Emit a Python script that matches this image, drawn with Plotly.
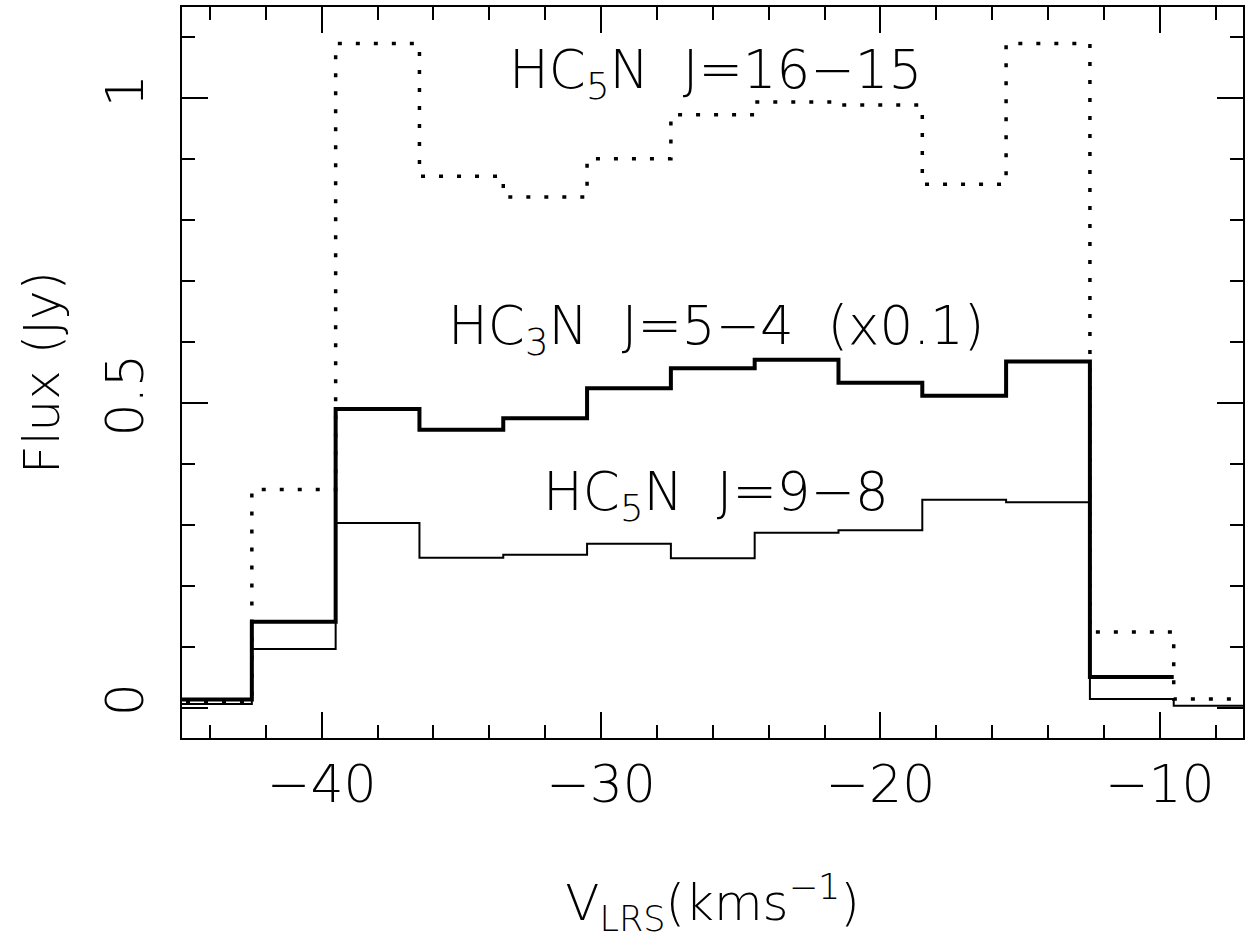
import plotly.graph_objects as go

# Channel centres (km/s), channel width 3 km/s
v_centres = [-44, -41, -38, -35, -32, -29, -26, -23, -20, -17, -14, -11, -8]
chan_width = 3.0

# HC5N J=16-15 (dotted)
hc5n_16_15 = [0.0095, 0.358, 1.090, 0.872, 0.838, 0.901, 0.973, 0.994, 0.989, 0.859, 1.090, 0.124, 0.014]
# HC3N J=5-4 (x0.1) (thick) - last channel not plotted
hc3n_5_4 = [0.0134, 0.141, 0.490, 0.456, 0.475, 0.524, 0.557, 0.571, 0.533, 0.512, 0.568, 0.050]
# HC5N J=9-8 (thin)
hc5n_9_8 = [0.0057, 0.096, 0.303, 0.246, 0.251, 0.269, 0.245, 0.287, 0.291, 0.341, 0.337, 0.014, 0.003]

x_ticks = [-40, -30, -20, -10]
y_ticks = [0, 0.5, 1]


def steps(centres, vals):
    xs = [c - chan_width / 2 for c in centres[:len(vals)]]
    xs.append(centres[len(vals) - 1] + chan_width / 2)
    ys = list(vals) + [vals[-1]]
    return xs, ys


FONT = "DejaVu Sans"
fig = go.Figure()

x1, y1 = steps(v_centres, hc5n_16_15)
fig.add_trace(go.Scatter(x=x1, y=y1, mode="lines", line_shape="hv",
                         line=dict(color="black", width=3.5, dash="4px,14px"),
                         name="HC5N J=16-15"))
x2, y2 = steps(v_centres, hc3n_5_4)
fig.add_trace(go.Scatter(x=x2, y=y2, mode="lines", line_shape="hv",
                         line=dict(color="black", width=4),
                         name="HC3N J=5-4 (x0.1)"))
x3, y3 = steps(v_centres, hc5n_9_8)
fig.add_trace(go.Scatter(x=x3, y=y3, mode="lines", line_shape="hv",
                         line=dict(color="black", width=2),
                         name="HC5N J=9-8"))

ann_font = dict(family=FONT, size=53, color="black", weight=200)
fig.add_annotation(x=-25.9, y=1.041, text="HC<sub>5</sub>N  J=16−15", showarrow=False,
                   xanchor="center", yanchor="middle", font=ann_font)
fig.add_annotation(x=-25.9, y=0.62, text="HC<sub>3</sub>N  J=5−4  (x0.1)", showarrow=False,
                   xanchor="center", yanchor="middle", font=ann_font)
fig.add_annotation(x=-25.9, y=0.348, text="HC<sub>5</sub>N  J=9−8", showarrow=False,
                   xanchor="center", yanchor="middle", font=ann_font)

fig.update_layout(
    width=1251, height=947,
    margin=dict(l=182, r=8, t=5, b=209),
    paper_bgcolor="white", plot_bgcolor="white",
    showlegend=False,
    font=dict(family=FONT, size=52, color="black", weight=200),
)
fig.update_xaxes(
    range=[-45, -7.02], tickvals=x_ticks,
    ticks="inside", ticklen=26, tickwidth=2, tickcolor="black",
    minor=dict(dtick=2, tick0=0, ticks="inside", ticklen=13, tickwidth=2, tickcolor="black"),
    showline=True, linewidth=2, linecolor="black", mirror="allticks",
    showgrid=False, zeroline=False,
    tickfont=dict(family=FONT, size=52, color="black", weight=200),
    title=dict(text="V<sub>LRS</sub>(kms<sup>−1</sup>)", standoff=72,
               font=dict(family=FONT, size=50, color="black", weight=200)),
)
fig.update_yaxes(
    range=[-0.05, 1.15], tickvals=y_ticks, tickangle=-90,
    ticks="inside", ticklen=26, tickwidth=2, tickcolor="black",
    minor=dict(dtick=0.1, tick0=0, ticks="inside", ticklen=13, tickwidth=2, tickcolor="black"),
    showline=True, linewidth=2, linecolor="black", mirror="allticks",
    showgrid=False, zeroline=False,
    tickfont=dict(family=FONT, size=52, color="black", weight=200),
    ticklabelstandoff=16,
    title=dict(text="Flux (Jy)", standoff=20,
               font=dict(family=FONT, size=50, color="black", weight=200)),
)

fig.write_html("out.html")
